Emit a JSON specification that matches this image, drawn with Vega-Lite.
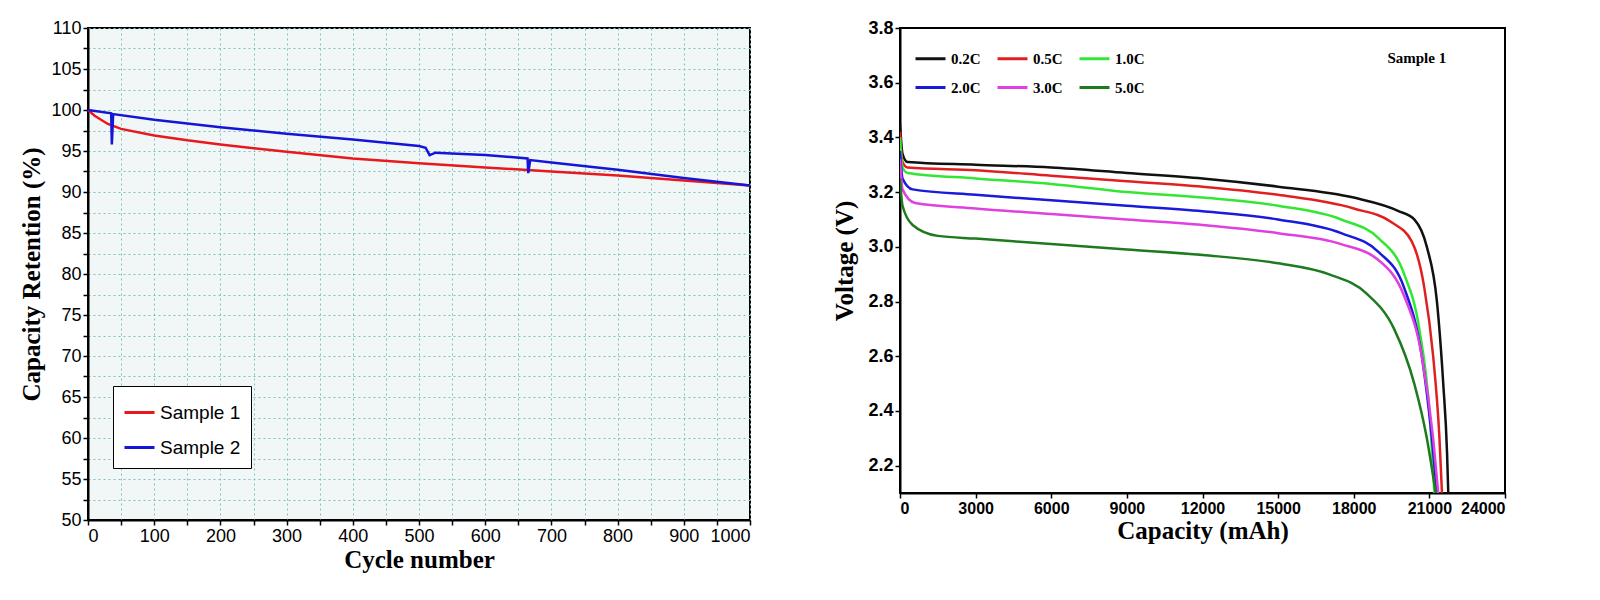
{
"$schema":"https://vega.github.io/schema/vega-lite/v6.json",
"background":"white",
"padding":{"left":18,"top":18,"right":10,"bottom":5},
"spacing":75,
"resolve":{"scale":{"color":"independent"},"legend":{"color":"independent"}},
"config":{"view":{"stroke":"black","strokeWidth":2},
 "axis":{"domainColor":"black","domainWidth":2,"tickColor":"black","tickWidth":1.5,"labelColor":"black","titleColor":"black","titleFont":"Liberation Serif","titleFontWeight":"bold","titleFontSize":25,"labelFont":"Liberation Sans","labelFontSize":18}},
"hconcat":[
{"width":662,"height":492,
 "view":{"fill":"#f1f7f7"},
 "data":{"values":[
 {"s":"Sample 1","c":0,"r":100},{"s":"Sample 1","c":10,"r":99.3},{"s":"Sample 1","c":30,"r":98.3},{"s":"Sample 1","c":50,"r":97.7},{"s":"Sample 1","c":100,"r":96.9},{"s":"Sample 1","c":150,"r":96.3},{"s":"Sample 1","c":200,"r":95.8},{"s":"Sample 1","c":300,"r":94.9},{"s":"Sample 1","c":400,"r":94.1},{"s":"Sample 1","c":500,"r":93.5},{"s":"Sample 1","c":600,"r":93.0},{"s":"Sample 1","c":700,"r":92.5},{"s":"Sample 1","c":800,"r":92.0},{"s":"Sample 1","c":900,"r":91.4},{"s":"Sample 1","c":1000,"r":90.8},
 {"s":"Sample 2","c":0,"r":100},{"s":"Sample 2","c":35,"r":99.6},{"s":"Sample 2","c":36,"r":95.8},{"s":"Sample 2","c":38,"r":99.5},{"s":"Sample 2","c":100,"r":98.8},{"s":"Sample 2","c":200,"r":97.9},{"s":"Sample 2","c":300,"r":97.1},{"s":"Sample 2","c":400,"r":96.4},{"s":"Sample 2","c":500,"r":95.6},{"s":"Sample 2","c":510,"r":95.4},{"s":"Sample 2","c":516,"r":94.5},{"s":"Sample 2","c":525,"r":94.8},{"s":"Sample 2","c":600,"r":94.5},{"s":"Sample 2","c":664,"r":94.1},{"s":"Sample 2","c":665,"r":92.3},{"s":"Sample 2","c":668,"r":93.9},{"s":"Sample 2","c":700,"r":93.6},{"s":"Sample 2","c":800,"r":92.7},{"s":"Sample 2","c":900,"r":91.7},{"s":"Sample 2","c":1000,"r":90.8}]},
 "mark":{"type":"line","strokeWidth":2.5},
 "encoding":{
  "x":{"field":"c","type":"quantitative","scale":{"domain":[0,1000],"nice":false},"title":"Cycle number",
   "axis":{"values":[0,50,100,150,200,250,300,350,400,450,500,550,600,650,700,750,800,850,900,950,1000],"labelExpr":"datum.value % 100 == 0 ? '' + datum.value : ''","grid":true,"gridColor":"#7fbfbf","gridDash":[2,3],"gridWidth":1,"titlePadding":2}},
  "y":{"field":"r","type":"quantitative","scale":{"domain":[50,110],"nice":false},"title":"Capacity Retention (%)",
   "axis":{"values":[50,52.5,55,57.5,60,62.5,65,67.5,70,72.5,75,77.5,80,82.5,85,87.5,90,92.5,95,97.5,100,102.5,105,107.5,110],"labelExpr":"datum.value % 5 == 0 ? '' + datum.value : ''","grid":true,"gridColor":"#7fbfbf","gridDash":[2,3],"gridWidth":1,"titlePadding":6}},
  "color":{"field":"s","type":"nominal","scale":{"domain":["Sample 1","Sample 2"],"range":["#e8191e","#1515d8"]},
   "legend":{"title":null,"orient":"none","legendX":25,"legendY":358,"strokeColor":"black","fillColor":"white","padding":10,"labelFontSize":19,"labelFont":"Liberation Sans","symbolType":"stroke","symbolSize":900,"symbolStrokeWidth":3,"rowPadding":8}}
 }},
{"width":605,"height":465,
 "layer":[
 {"data":{"values":[
 {"k":"0.2C","q":0,"v":3.45},{"k":"0.2C","q":100,"v":3.34},{"k":"0.2C","q":300,"v":3.31},{"k":"0.2C","q":3000,"v":3.30},{"k":"0.2C","q":6000,"v":3.29},{"k":"0.2C","q":9000,"v":3.27},{"k":"0.2C","q":12000,"v":3.25},{"k":"0.2C","q":15000,"v":3.22},{"k":"0.2C","q":18000,"v":3.18},{"k":"0.2C","q":19800,"v":3.13},{"k":"0.2C","q":20400,"v":3.10},{"k":"0.2C","q":20900,"v":3.0},{"k":"0.2C","q":21300,"v":2.8},{"k":"0.2C","q":21550,"v":2.5},{"k":"0.2C","q":21700,"v":2.25},{"k":"0.2C","q":21750,"v":2.1},
 {"k":"0.5C","q":0,"v":3.42},{"k":"0.5C","q":100,"v":3.31},{"k":"0.5C","q":300,"v":3.29},{"k":"0.5C","q":3000,"v":3.28},{"k":"0.5C","q":6000,"v":3.26},{"k":"0.5C","q":9000,"v":3.24},{"k":"0.5C","q":12000,"v":3.22},{"k":"0.5C","q":15000,"v":3.19},{"k":"0.5C","q":18000,"v":3.14},{"k":"0.5C","q":19500,"v":3.09},{"k":"0.5C","q":20300,"v":3.02},{"k":"0.5C","q":20800,"v":2.85},{"k":"0.5C","q":21150,"v":2.6},{"k":"0.5C","q":21400,"v":2.3},{"k":"0.5C","q":21500,"v":2.1},
 {"k":"1.0C","q":0,"v":3.40},{"k":"1.0C","q":100,"v":3.29},{"k":"1.0C","q":300,"v":3.27},{"k":"1.0C","q":3000,"v":3.25},{"k":"1.0C","q":6000,"v":3.23},{"k":"1.0C","q":9000,"v":3.20},{"k":"1.0C","q":12000,"v":3.18},{"k":"1.0C","q":15000,"v":3.15},{"k":"1.0C","q":17500,"v":3.10},{"k":"1.0C","q":19000,"v":3.03},{"k":"1.0C","q":20000,"v":2.90},{"k":"1.0C","q":20600,"v":2.7},{"k":"1.0C","q":21000,"v":2.4},{"k":"1.0C","q":21200,"v":2.1},
 {"k":"2.0C","q":0,"v":3.35},{"k":"2.0C","q":100,"v":3.25},{"k":"2.0C","q":500,"v":3.21},{"k":"2.0C","q":3000,"v":3.19},{"k":"2.0C","q":6000,"v":3.17},{"k":"2.0C","q":9000,"v":3.15},{"k":"2.0C","q":12000,"v":3.13},{"k":"2.0C","q":15000,"v":3.10},{"k":"2.0C","q":17500,"v":3.05},{"k":"2.0C","q":19000,"v":2.98},{"k":"2.0C","q":20000,"v":2.85},{"k":"2.0C","q":20700,"v":2.6},{"k":"2.0C","q":21100,"v":2.3},{"k":"2.0C","q":21300,"v":2.1},
 {"k":"3.0C","q":0,"v":3.32},{"k":"3.0C","q":100,"v":3.21},{"k":"3.0C","q":600,"v":3.16},{"k":"3.0C","q":3000,"v":3.14},{"k":"3.0C","q":6000,"v":3.12},{"k":"3.0C","q":9000,"v":3.10},{"k":"3.0C","q":12000,"v":3.08},{"k":"3.0C","q":15000,"v":3.05},{"k":"3.0C","q":17500,"v":3.01},{"k":"3.0C","q":19000,"v":2.95},{"k":"3.0C","q":20000,"v":2.82},{"k":"3.0C","q":20700,"v":2.6},{"k":"3.0C","q":21150,"v":2.3},{"k":"3.0C","q":21350,"v":2.1},
 {"k":"5.0C","q":0,"v":3.25},{"k":"5.0C","q":100,"v":3.15},{"k":"5.0C","q":500,"v":3.08},{"k":"5.0C","q":1500,"v":3.04},{"k":"5.0C","q":3000,"v":3.03},{"k":"5.0C","q":6000,"v":3.01},{"k":"5.0C","q":9000,"v":2.99},{"k":"5.0C","q":12000,"v":2.97},{"k":"5.0C","q":15000,"v":2.94},{"k":"5.0C","q":17000,"v":2.90},{"k":"5.0C","q":18500,"v":2.83},{"k":"5.0C","q":19600,"v":2.70},{"k":"5.0C","q":20400,"v":2.5},{"k":"5.0C","q":20900,"v":2.3},{"k":"5.0C","q":21250,"v":2.1}]},
 "mark":{"type":"line","strokeWidth":2.5,"interpolate":"monotone","clip":true},
 "encoding":{
  "x":{"field":"q","type":"quantitative","scale":{"domain":[0,24000],"nice":false},"title":"Capacity (mAh)",
   "axis":{"values":[0,3000,6000,9000,12000,15000,18000,21000,24000],"format":"d","grid":false,"labelFontWeight":"bold","labelFontSize":16,"titlePadding":2}},
  "y":{"field":"v","type":"quantitative","scale":{"domain":[2.1,3.8],"nice":false},"title":"Voltage (V)",
   "axis":{"values":[2.2,2.4,2.6,2.8,3.0,3.2,3.4,3.6,3.8],"format":".1f","grid":false,"labelFontWeight":"bold","titlePadding":10}},
  "color":{"field":"k","type":"nominal","scale":{"domain":["0.2C","2.0C","0.5C","3.0C","1.0C","5.0C"],"range":["#111111","#1a1adb","#e02020","#e040e0","#33e633","#1e7a1e"]},
   "legend":{"title":null,"orient":"top-left","columns":3,"columnPadding":10,"rowPadding":4,"labelFont":"Liberation Serif","labelFontWeight":"bold","labelFontSize":15,"symbolType":"stroke","symbolSize":900,"symbolStrokeWidth":3,"offset":14}}
 }},
 {"data":{"values":[{"q":20500,"v":3.69,"t":"Sample 1"}]},
  "mark":{"type":"text","font":"Liberation Serif","fontWeight":"bold","fontSize":15,"color":"black"},
  "encoding":{"x":{"field":"q","type":"quantitative"},"y":{"field":"v","type":"quantitative"},"text":{"field":"t"}}}
 ]}
]}
